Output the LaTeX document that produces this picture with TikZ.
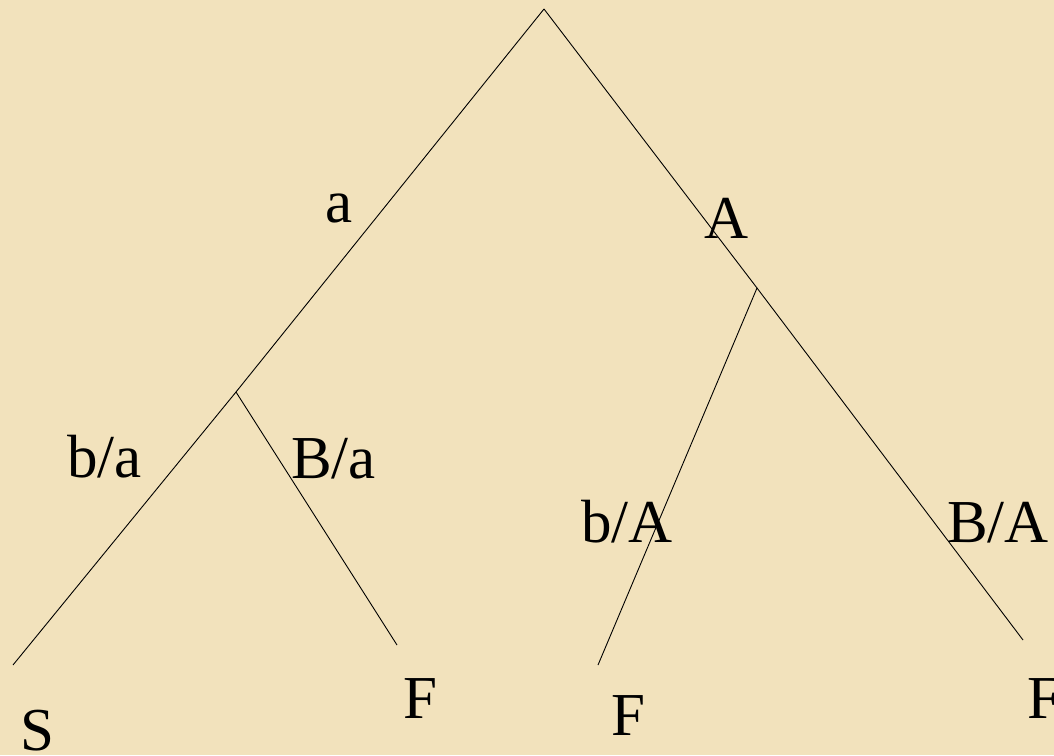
\documentclass[tikz,border=0pt]{standalone}
\usepackage{fontspec}
\setmainfont{Liberation Serif}
\definecolor{parchment}{RGB}{242,226,188}
\begin{document}
\begin{tikzpicture}[x=1pt,y=-1pt,
  lbl/.style={inner sep=0pt, anchor=base west, font=\fontsize{61}{70}\selectfont},
  edge/.style={line width=0.9pt, black}]
\fill[parchment] (0,0) rectangle (1054,755);
\useasboundingbox (0,0) rectangle (1054,755);
% tree points
\coordinate (root) at (544,9);
\coordinate (na) at (236,392);
\coordinate (nA) at (757,288);
\coordinate (leafS) at (13,665);
\coordinate (leafF1) at (397,645);
\coordinate (leafF2) at (598,665);
\coordinate (leafF3) at (1023,640);
% edges
\draw[edge] (root) -- (na);
\draw[edge] (na) -- (leafS);
\draw[edge] (na) -- (leafF1);
\draw[edge] (root) -- (nA);
\draw[edge] (nA) -- (leafF3);
\draw[edge] (nA) -- (leafF2);
% labels
\node[lbl] (la) at (325,222) {a};
\node[lbl] (lA) at (704,238) {A};
\node[lbl] (lba) at (67,477) {b/a};
\node[lbl] (lBa) at (291,478) {B/a};
\node[lbl] (lbA) at (581,542) {b/A};
\node[lbl] (lBA) at (947,542) {B/A};
\node[lbl] (tS) at (20,750) {S};
\node[lbl] (tF1) at (403,718) {F};
\node[lbl] (tF2) at (611,735) {F};
\node[lbl] (tF3) at (1027,718) {F};
\end{tikzpicture}
\end{document}
